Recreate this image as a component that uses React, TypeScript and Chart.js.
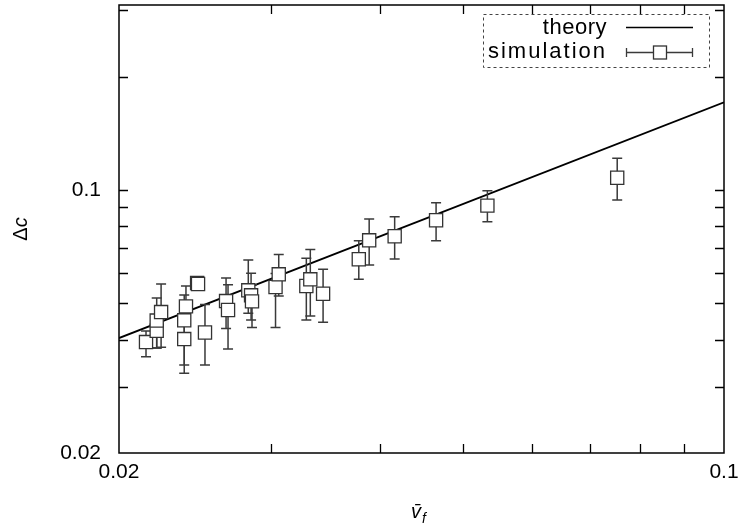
import React, { useEffect, useRef } from 'react';
import { Chart, registerables } from 'chart.js';
Chart.register(...registerables);

const FONT = '"Liberation Sans", Arial, Helvetica, sans-serif';

const X_MIN = 0.02;
const X_MAX = 0.1;
const Y_MIN = 0.02;
const Y_MAX = 0.31;

const X_LABEL_TICKS = [0.02, 0.1];
const Y_LABEL_TICKS = [0.02, 0.1];
const X_MINOR_TICKS = [0.03, 0.04, 0.05, 0.06, 0.07, 0.08, 0.09];
const Y_MINOR_TICKS = [0.03, 0.04, 0.05, 0.06, 0.07, 0.08, 0.09, 0.1, 0.2, 0.3];

const theoryX = [0.02, 0.1];
const theoryY = [0.0404, 0.171];

const simX = [0.02149, 0.02211, 0.02211, 0.02237, 0.02379, 0.02379, 0.0239, 0.02462, 0.02468, 0.02514, 0.02659, 0.02673, 0.02821, 0.02842, 0.02849, 0.03033, 0.03059, 0.03292, 0.03327, 0.03442, 0.03785, 0.03891, 0.04164, 0.04649, 0.05329, 0.07527];
const simY = [0.03942, 0.04225, 0.04497, 0.04737, 0.04015, 0.04503, 0.04904, 0.0566, 0.05625, 0.04179, 0.05066, 0.04796, 0.05411, 0.05248, 0.05057, 0.05521, 0.05967, 0.05555, 0.05788, 0.053, 0.06545, 0.07346, 0.07531, 0.08307, 0.09085, 0.10776];
const simLo = [0.03602, 0.038, 0.038, 0.0382, 0.03256, 0.03424, 0.044, 0.0545, 0.0542, 0.03424, 0.04287, 0.03776, 0.047, 0.04511, 0.04313, 0.04313, 0.05226, 0.04511, 0.04623, 0.04448, 0.05788, 0.06316, 0.06553, 0.07328, 0.08235, 0.09406];
const simHi = [0.04217, 0.04497, 0.05161, 0.05623, 0.04374, 0.05257, 0.05555, 0.0585, 0.0582, 0.04959, 0.05834, 0.056, 0.06513, 0.06004, 0.056, 0.06, 0.06736, 0.06581, 0.06944, 0.06153, 0.07328, 0.08373, 0.08492, 0.09252, 0.09957, 0.12143];

const LEGEND_LABELS = ['theory', 'simulation'];

export default function App() {
  const ref = useRef<HTMLCanvasElement>(null);
  useEffect(() => {
    document.body.style.margin = '0';
    const canvas = ref.current!;

    const errorBars = {
      id: 'errorBars',
      beforeDatasetDraw(chart: any, args: any) {
        if (args.index !== 1) return;
        const { ctx, scales } = chart;
        ctx.save();
        ctx.strokeStyle = '#3a3a3a';
        ctx.lineWidth = 1.5;
        for (let i = 0; i < simX.length; i++) {
          const px = scales.x.getPixelForValue(simX[i]);
          const lo = scales.y.getPixelForValue(simLo[i]);
          const hi = scales.y.getPixelForValue(simHi[i]);
          ctx.beginPath();
          ctx.moveTo(px, lo);
          ctx.lineTo(px, hi);
          ctx.moveTo(px - 5, lo);
          ctx.lineTo(px + 5, lo);
          ctx.moveTo(px - 5, hi);
          ctx.lineTo(px + 5, hi);
          ctx.stroke();
        }
        ctx.restore();
      },
    };

    const frame = {
      id: 'frame',
      afterDraw(chart: any) {
        const { ctx, chartArea: a, scales } = chart;
        ctx.save();
        ctx.strokeStyle = '#000';
        ctx.lineWidth = 1.5;
        ctx.strokeRect(a.left, a.top, a.right - a.left, a.bottom - a.top);
        ctx.lineWidth = 1.3;
        ctx.beginPath();
        const TL = 9;
        X_MINOR_TICKS.forEach((v) => {
          const px = Math.round(scales.x.getPixelForValue(v)) + 0.5;
          ctx.moveTo(px, a.bottom);
          ctx.lineTo(px, a.bottom - TL);
          ctx.moveTo(px, a.top);
          ctx.lineTo(px, a.top + TL);
        });
        Y_MINOR_TICKS.forEach((v) => {
          const py = Math.round(scales.y.getPixelForValue(v)) + 0.5;
          ctx.moveTo(a.left, py);
          ctx.lineTo(a.left + TL, py);
          ctx.moveTo(a.right, py);
          ctx.lineTo(a.right - TL, py);
        });
        ctx.stroke();

        // tick labels
        ctx.fillStyle = '#000';
        ctx.font = `21px ${FONT}`;
        ctx.textBaseline = 'middle';
        ctx.textAlign = 'center';
        X_LABEL_TICKS.forEach((v) => {
          ctx.fillText(String(v), scales.x.getPixelForValue(v), a.bottom + 19);
        });
        ctx.textAlign = 'right';
        Y_LABEL_TICKS.forEach((v) => {
          ctx.fillText(String(v), a.left - 18, scales.y.getPixelForValue(v));
        });

        // axis titles
        ctx.textBaseline = 'alphabetic';
        ctx.save();
        ctx.translate(27, 229);
        ctx.rotate(-Math.PI / 2);
        ctx.font = `20px ${FONT}`;
        const wD = ctx.measureText('Δ').width;
        ctx.font = `italic 20px ${FONT}`;
        const wC = ctx.measureText('c').width;
        const start = -(wD + wC) / 2;
        ctx.font = `20px ${FONT}`;
        ctx.textAlign = 'left';
        ctx.fillText('Δ', start, 0);
        ctx.font = `italic 20px ${FONT}`;
        ctx.fillText('c', start + wD, 0);
        ctx.restore();

        ctx.font = `italic 20px ${FONT}`;
        ctx.textAlign = 'left';
        const vx = 411;
        const vy = 518;
        ctx.fillText('v\u0304', vx, vy);
        const wv = ctx.measureText('v').width;
        ctx.font = `italic 14px ${FONT}`;
        ctx.fillText('f', vx + wv + 1, vy + 5);

        // legend
        const lx0 = 483, ly0 = 14, lx1 = 709, ly1 = 67;
        ctx.save();
        ctx.setLineDash([3, 3]);
        ctx.strokeStyle = '#444';
        ctx.lineWidth = 1;
        ctx.strokeRect(lx0 + 0.5, ly0 + 0.5, lx1 - lx0, ly1 - ly0);
        ctx.restore();
        ctx.font = `22px ${FONT}`;
        ctx.textAlign = 'right';
        ctx.textBaseline = 'middle';
        ctx.fillStyle = '#000';
        const rows = [28, 52];
        (ctx as any).letterSpacing = '0.5px';
        ctx.fillText(LEGEND_LABELS[0], 607, rows[0]);
        (ctx as any).letterSpacing = '2px';
        ctx.fillText(LEGEND_LABELS[1], 607, rows[1]);
        (ctx as any).letterSpacing = '0px';
        ctx.strokeStyle = '#000';
        ctx.lineWidth = 1.3;
        ctx.beginPath();
        ctx.moveTo(626, rows[0] - 0.5);
        ctx.lineTo(693, rows[0] - 0.5);
        ctx.stroke();
        ctx.strokeStyle = '#3a3a3a';
        ctx.beginPath();
        ctx.moveTo(626, rows[1] + 0.5);
        ctx.lineTo(693, rows[1] + 0.5);
        ctx.moveTo(626.5, rows[1] - 4);
        ctx.lineTo(626.5, rows[1] + 5);
        ctx.moveTo(692.5, rows[1] - 4);
        ctx.lineTo(692.5, rows[1] + 5);
        ctx.stroke();
        ctx.fillStyle = '#fff';
        ctx.strokeStyle = '#333';
        ctx.fillRect(653.5, rows[1] - 6, 13, 13);
        ctx.strokeRect(653.5, rows[1] - 6, 13, 13);
        ctx.restore();
      },
    };

    const chart = new Chart(canvas, {
      type: 'scatter',
      data: {
        datasets: [
          {
            label: LEGEND_LABELS[0],
            type: 'line',
            data: theoryX.map((x, i) => ({ x, y: theoryY[i] })),
            borderColor: '#000',
            borderWidth: 1.8,
            pointRadius: 0,
            showLine: true,
            fill: false,
            tension: 0,
            order: 2,
          } as any,
          {
            label: LEGEND_LABELS[1],
            data: simX.map((x, i) => ({ x, y: simY[i] })),
            pointStyle: 'rect',
            pointRadius: 9.3,
            pointBackgroundColor: '#fff',
            pointBorderColor: '#333',
            pointBorderWidth: 1.3,
            order: 1,
          },
        ],
      },
      options: {
        animation: false,
        responsive: false,
        layout: { autoPadding: false, padding: { top: 5, right: 15, left: 0, bottom: 0 } },
        plugins: { legend: { display: false }, tooltip: { enabled: false } },
        scales: {
          x: {
            type: 'logarithmic',
            min: X_MIN,
            max: X_MAX,
            grid: { display: false, drawTicks: false },
            border: { display: false },
            ticks: { display: false },
            afterFit: (s: any) => {
              s.height = 78;
            },
          },
          y: {
            type: 'logarithmic',
            min: Y_MIN,
            max: Y_MAX,
            grid: { display: false, drawTicks: false },
            border: { display: false },
            ticks: { display: false },
            afterFit: (s: any) => {
              s.width = 119;
            },
          },
        },
      },
      plugins: [errorBars, frame],
    });
    return () => chart.destroy();
  }, []);
  return (
    <canvas ref={ref} width={739} height={531} style={{ display: 'block' }} />
  );
}
